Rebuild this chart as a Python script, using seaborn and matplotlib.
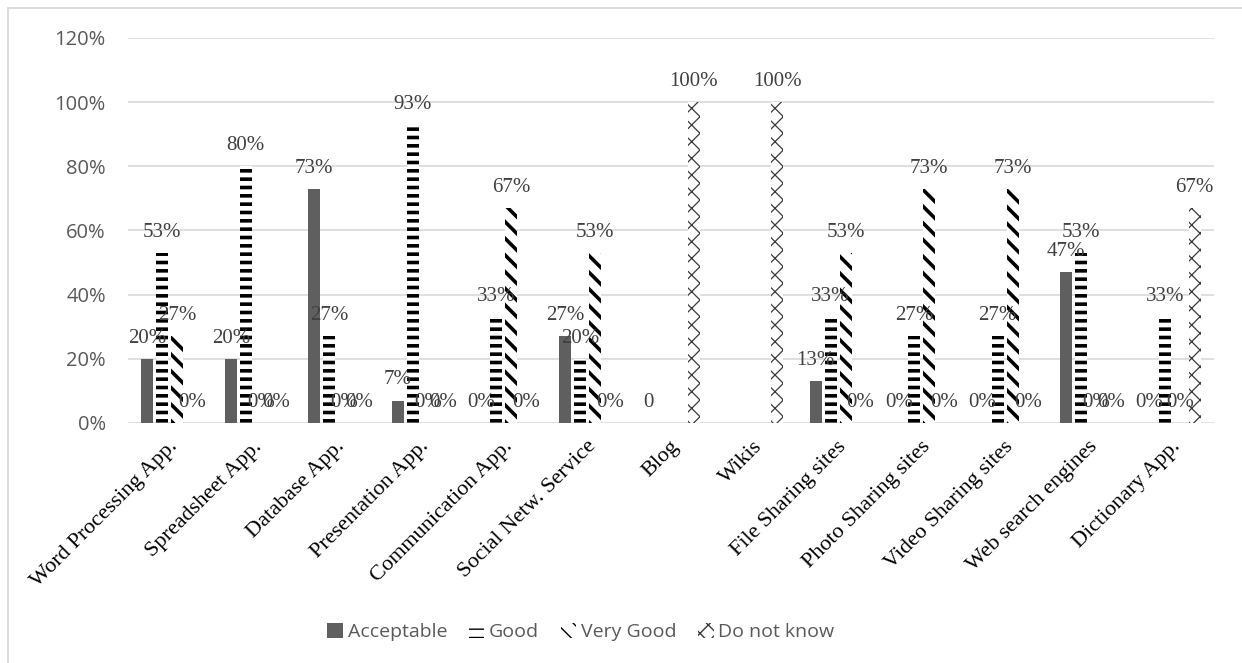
import pandas as pd
import matplotlib.pyplot as plt
import numpy as np
import seaborn as sns
from matplotlib.patches import Patch, Rectangle
from matplotlib.ticker import PercentFormatter
from matplotlib.transforms import ScaledTranslation

categories = ['Word Processing App.', 'Spreadsheet App.', 'Database App.', 'Presentation App.',
              'Communication App.', 'Social Netw. Service', 'Blog', 'Wikis',
              'File Sharing sites', 'Photo Sharing sites', 'Video Sharing sites',
              'Web search engines', 'Dictionary App.']
series = ['Acceptable', 'Good', 'Very Good', 'Do not know']

# values in %, None = no bar / no label
acceptable = [20, 20, 73, 7, 0, 27, 0, None, 13, 0, 0, 47, 0]
good = [53, 80, 27, 93, 33, 20, None, None, 33, 27, 27, 53, 33]
very_good = [27, 0, 0, 0, 67, 53, None, None, 53, 73, 73, 0, 0]
do_not_know = [0, 0, 0, 0, 0, 0, 100, 100, 0, 0, 0, 0, 67]

# the Blog / Acceptable cell is shown as a plain "0" in the source
plain_labels = {('Blog', 'Acceptable')}

rows = []
for name, vals in zip(series, [acceptable, good, very_good, do_not_know]):
    for cat, v in zip(categories, vals):
        if v is not None:
            rows.append({'category': cat, 'rating': name, 'pct': v})
data = pd.DataFrame(rows)

sns.set_style('white')
plt.rcParams['font.family'] = ['Open Sans', 'DejaVu Sans']

fig = plt.figure(figsize=(12.42, 6.63), dpi=100)
ax = fig.add_axes([128 / 1242, 1 - 423 / 663, (1214 - 128) / 1242, (423 - 38) / 663])

sns.barplot(data=data, x='category', y='pct', hue='rating', order=categories,
            hue_order=series, width=0.72, gap=0.2, ax=ax, legend=False)

styles = {
    'Acceptable': dict(fc='#5f5f5f', hatch=None, hc='#5f5f5f', hlw=1.0),
    'Good': dict(fc='white', hatch='--', hc='black', hlw=2.6),
    'Very Good': dict(fc='white', hatch='\\\\', hc='black', hlw=2.6),
    'Do not know': dict(fc='white', hatch='xx', hc='#3a3a3a', hlw=0.9),
}

lookup = {(r.category, r.rating): r.pct for r in data.itertuples()}

for cont, name in zip(ax.containers, series):
    st = styles[name]
    labels = []
    for p in cont.patches:
        p.set_facecolor(st['fc'])
        p.set_edgecolor(st['hc'])
        p.set_linewidth(0)
        if st['hatch']:
            p.set_hatch(st['hatch'])
            if hasattr(p, 'set_hatch_linewidth'):
                p.set_hatch_linewidth(st['hlw'])
        idx = int(round(p.get_x() + p.get_width() / 2))
        cat = categories[idx]
        v = lookup.get((cat, name))
        if v is None or np.isnan(v):
            labels.append('')
        elif (cat, name) in plain_labels:
            labels.append(f'{v:g}')
        else:
            labels.append(f'{v:g}%')
    ax.bar_label(cont, labels=labels, padding=8, fontsize=15,
                 family='Liberation Serif', color='#404040')

if not hasattr(ax.patches[0], 'set_hatch_linewidth'):
    plt.rcParams['hatch.linewidth'] = 2.0

ax.set_ylim(0, 120)
ax.set_yticks(np.arange(0, 121, 20))
ax.yaxis.set_major_formatter(PercentFormatter(100, decimals=0))
ax.grid(axis='y', color='#d9d9d9', linewidth=1.2)
ax.set_axisbelow(True)
ax.set_xlim(-0.5, len(categories) - 0.5)
sns.despine(ax=ax, left=True, bottom=True)
ax.set_xlabel('')
ax.set_ylabel('')
ax.tick_params(axis='y', length=0, pad=16, labelsize=14.5, labelcolor='#595959')
ax.tick_params(axis='x', length=0, pad=15)
ax.set_xticks(range(len(categories)))
ax.set_xticklabels(categories, rotation=45, ha='right', va='center',
                   rotation_mode='anchor', fontsize=16,
                   family='Liberation Serif', color='black')
shift = ScaledTranslation(4 / 72, 0, fig.dpi_scale_trans)
for lbl in ax.get_xticklabels():
    lbl.set_transform(lbl.get_transform() + shift)

handles = [Patch(facecolor=styles[s]['fc'], edgecolor=styles[s]['hc'], linewidth=0,
                 hatch=styles[s]['hatch'], label=s) for s in series]
fig.legend(handles=handles, loc='center', bbox_to_anchor=(581 / 1242, 1 - 632 / 663),
           ncol=4, frameon=False, fontsize=14, labelcolor='#595959',
           handlelength=0.8, handleheight=0.8, handletextpad=0.25, columnspacing=1.1)

fig.patches.append(Rectangle((7.5 / 1242, -0.1), 1.2, 1.1 - 8 / 663, transform=fig.transFigure,
                             fill=False, edgecolor='#d9d9d9', linewidth=1.3))

fig.savefig('out.png', dpi=100)
